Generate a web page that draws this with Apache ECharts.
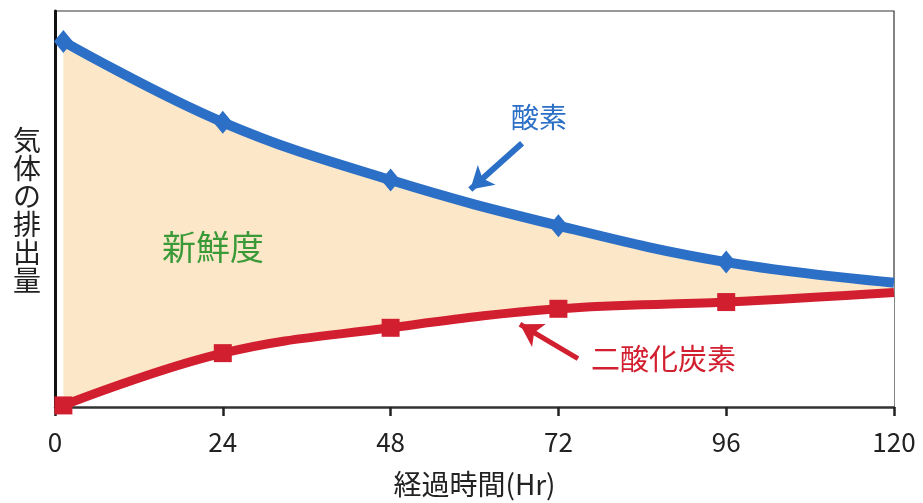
<!DOCTYPE html>
<html><head><meta charset="utf-8">
<script src="https://cdn.jsdelivr.net/npm/echarts@6/dist/echarts.min.js"></script>
<style>html,body{margin:0;padding:0;background:#fff}#c{width:923px;height:503px}</style>
</head><body><div id="c"></div>
<script>
var hours = [1.2, 24, 48, 72, 96, 120];
var oxygen = [92.3, 71.9, 57.3, 45.8, 36.6, 31.4];
var co2 = [0.4, 13.6, 20.0, 24.8, 26.5, 28.9];
var xTicks = [0, 24, 48, 72, 96, 120];
var oxygenArrow = [[66.8, 66.6], [59.4, 54.9]];
var co2Arrow = [[74.8, 12.2], [66.5, 20.9]];

var BLUE = '#2c6fc6', RED = '#d21f30', FILL = '#fce7c8', GREEN = '#3a9a38';
var FONT = '"Noto Sans CJK JP", "Noto Sans", sans-serif';
var SMOOTH = 0.4;

function pairs(vals, markLast) {
  return hours.map(function (h, i) {
    var item = { value: [h, vals[i]] };
    if (markLast && i === hours.length - 1) item.symbol = 'none';
    return item;
  });
}

var chart = echarts.init(document.getElementById('c'));
chart.setOption({
  animation: false,
  backgroundColor: '#fff',
  grid: { left: 55, right: 29, top: 11, bottom: 91, show: true, borderColor: '#333', borderWidth: 1.2, backgroundColor: '#fff' },
  xAxis: {
    type: 'value', min: 0, max: 120, interval: 24, z: 2,
    axisLine: { show: true, lineStyle: { color: '#333', width: 2.5 } },
    axisTick: { show: true, length: 9, lineStyle: { color: '#222', width: 2.5 } },
    splitLine: { show: false },
    axisLabel: { fontSize: 26, color: '#222', margin: 22, fontFamily: FONT,
      formatter: function (v) { return xTicks.indexOf(v) >= 0 ? String(v) : ''; } },
    name: '経過時間(Hr)', nameLocation: 'middle', nameGap: 63,
    nameTextStyle: { fontSize: 28, color: '#222', fontFamily: FONT }
  },
  yAxis: {
    type: 'value', min: 0, max: 100, z: 2,
    axisLine: { show: true, lineStyle: { color: '#111', width: 3 } },
    axisTick: { show: false }, axisLabel: { show: false }, splitLine: { show: false }
  },
  graphic: [
    { type: 'text', z: 100, left: 13, top: 126, style: { text: '気\n体\nの\n排\n出\n量', lineHeight: 28, fill: '#222', font: '28px ' + FONT } },
    { type: 'text', z: 100, left: 511, top: 103, style: { text: '酸素', fill: BLUE, font: '28px ' + FONT } },
    { type: 'text', z: 100, left: 162, top: 230, style: { text: '新鮮度', fill: GREEN, font: '34px ' + FONT } },
    { type: 'text', z: 100, left: 591, top: 344, style: { text: '二酸化炭素', fill: RED, font: '29px ' + FONT } }
  ],
  series: [
    { type: 'line', z: 1, smooth: SMOOTH, data: pairs(oxygen), symbol: 'none',
      lineStyle: { width: 0 }, areaStyle: { color: FILL, opacity: 1 } },
    { type: 'line', z: 1, smooth: SMOOTH, data: pairs(co2), symbol: 'none',
      lineStyle: { width: 0 }, areaStyle: { color: '#fff', opacity: 1 } },
    { type: 'line', z: 3, smooth: SMOOTH, data: pairs(oxygen, true), symbol: 'diamond', symbolSize: [19, 23],
      lineStyle: { color: BLUE, width: 10 }, itemStyle: { color: BLUE },
      markLine: { silent: true, symbol: ['none', 'arrow'], symbolSize: [20, 22],
        lineStyle: { color: BLUE, width: 6, type: 'solid' }, label: { show: false },
        data: [[{ coord: oxygenArrow[0] }, { coord: oxygenArrow[1] }]] } },
    { type: 'line', z: 4, smooth: SMOOTH, data: pairs(co2, true), symbol: 'rect', symbolSize: 18,
      lineStyle: { color: RED, width: 9 }, itemStyle: { color: RED },
      markLine: { silent: true, symbol: ['none', 'arrow'], symbolSize: [20, 22],
        lineStyle: { color: RED, width: 5, type: 'solid' }, label: { show: false },
        data: [[{ coord: co2Arrow[0] }, { coord: co2Arrow[1] }]] } }
  ]
});
</script></body></html>
